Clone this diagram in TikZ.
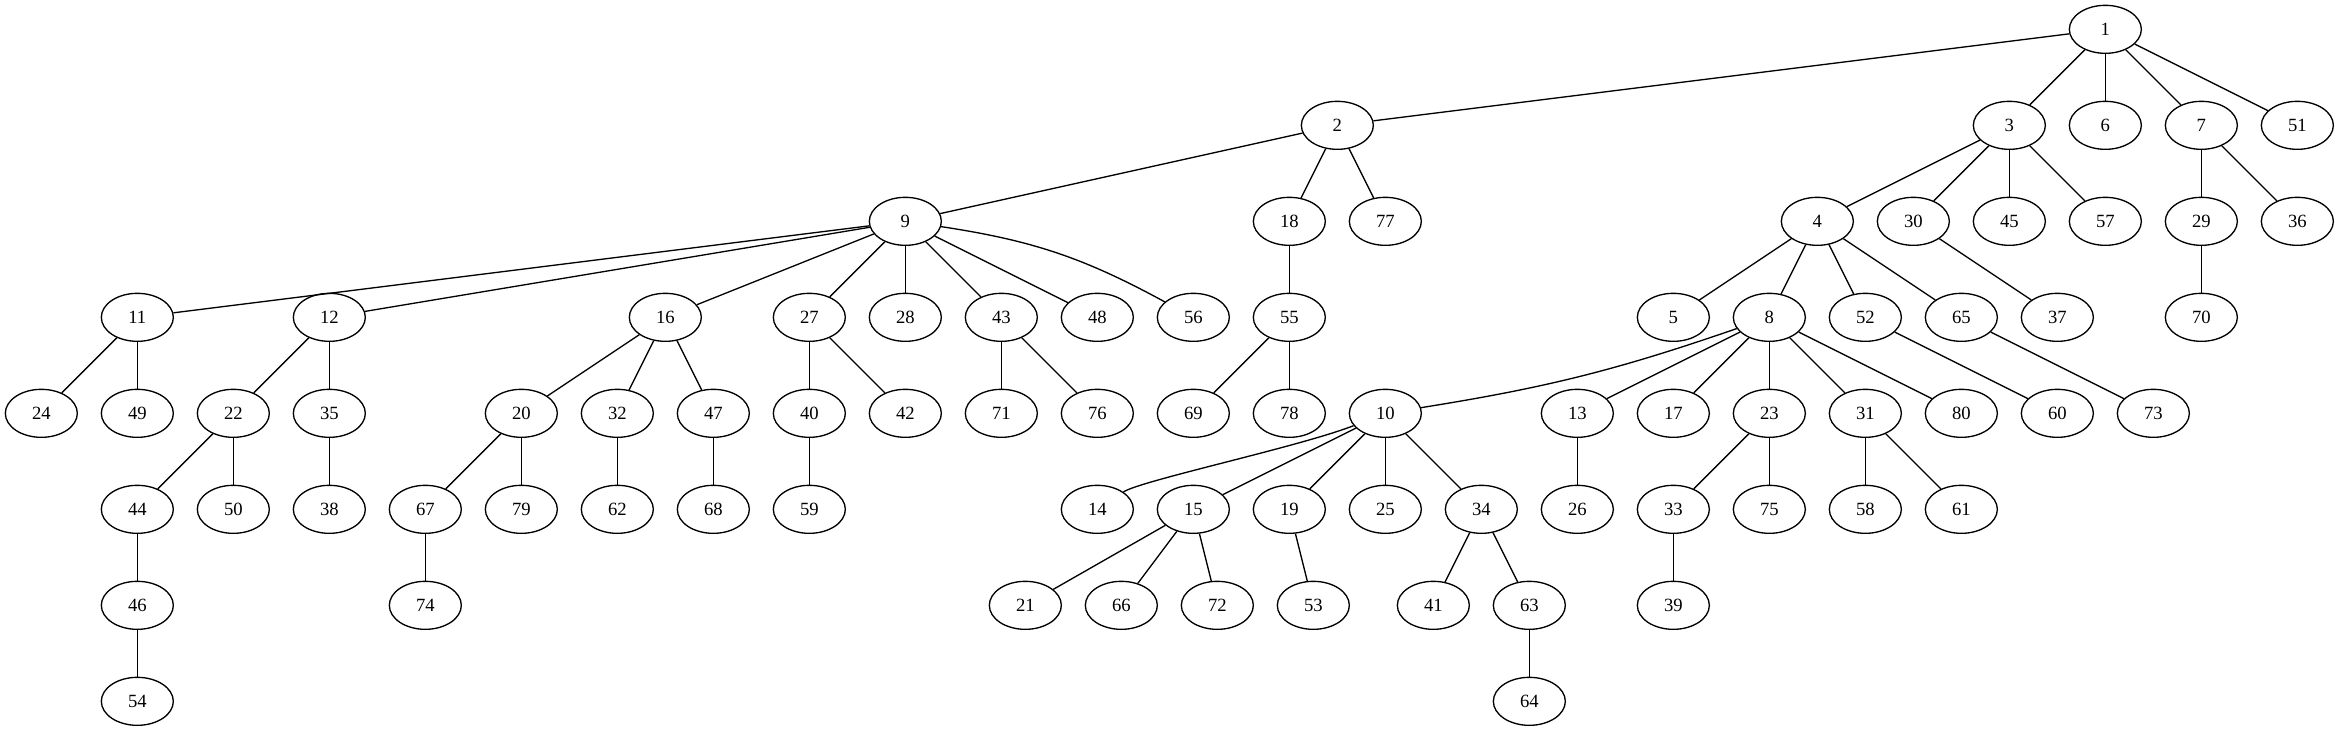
\documentclass[tikz,border=0pt]{standalone}
\usepackage{fontspec}
\setmainfont{Liberation Serif}
\usetikzlibrary{shapes.geometric}
\begin{document}
\begin{tikzpicture}[x=72pt,y=-72pt,
 nd/.style={ellipse,draw,line width=1pt,minimum width=54pt,minimum height=36pt,inner sep=0pt,font=\fontsize{14pt}{16pt}\selectfont},
 ed/.style={line width=1pt}]
\useasboundingbox (0pt,0pt) rectangle (1754.25pt,-548.25pt);
\begin{scope}[shift={(31pt,-22pt)}]
% row 0
\node[nd] (n1) at (21.5,0) {1};
% row 1
\node[nd] (n2) at (13.5,1) {2};
\node[nd] (n3) at (20.5,1) {3};
\node[nd] (n6) at (21.5,1) {6};
\node[nd] (n7) at (22.5,1) {7};
\node[nd] (n51) at (23.5,1) {51};
% row 2
\node[nd] (n9) at (9,2) {9};
\node[nd] (n18) at (13,2) {18};
\node[nd] (n77) at (14,2) {77};
\node[nd] (n4) at (18.5,2) {4};
\node[nd] (n30) at (19.5,2) {30};
\node[nd] (n45) at (20.5,2) {45};
\node[nd] (n57) at (21.5,2) {57};
\node[nd] (n29) at (22.5,2) {29};
\node[nd] (n36) at (23.5,2) {36};
% row 3
\node[nd] (n11) at (1,3) {11};
\node[nd] (n12) at (3,3) {12};
\node[nd] (n16) at (6.5,3) {16};
\node[nd] (n27) at (8,3) {27};
\node[nd] (n28) at (9,3) {28};
\node[nd] (n43) at (10,3) {43};
\node[nd] (n48) at (11,3) {48};
\node[nd] (n56) at (12,3) {56};
\node[nd] (n55) at (13,3) {55};
\node[nd] (n5) at (17,3) {5};
\node[nd] (n8) at (18,3) {8};
\node[nd] (n52) at (19,3) {52};
\node[nd] (n65) at (20,3) {65};
\node[nd] (n37) at (21,3) {37};
\node[nd] (n70) at (22.5,3) {70};
% row 4
\node[nd] (n24) at (0,4) {24};
\node[nd] (n49) at (1,4) {49};
\node[nd] (n22) at (2,4) {22};
\node[nd] (n35) at (3,4) {35};
\node[nd] (n20) at (5,4) {20};
\node[nd] (n32) at (6,4) {32};
\node[nd] (n47) at (7,4) {47};
\node[nd] (n40) at (8,4) {40};
\node[nd] (n42) at (9,4) {42};
\node[nd] (n71) at (10,4) {71};
\node[nd] (n76) at (11,4) {76};
\node[nd] (n69) at (12,4) {69};
\node[nd] (n78) at (13,4) {78};
\node[nd] (n10) at (14,4) {10};
\node[nd] (n13) at (16,4) {13};
\node[nd] (n17) at (17,4) {17};
\node[nd] (n23) at (18,4) {23};
\node[nd] (n31) at (19,4) {31};
\node[nd] (n80) at (20,4) {80};
\node[nd] (n60) at (21,4) {60};
\node[nd] (n73) at (22,4) {73};
% row 5
\node[nd] (n44) at (1,5) {44};
\node[nd] (n50) at (2,5) {50};
\node[nd] (n38) at (3,5) {38};
\node[nd] (n67) at (4,5) {67};
\node[nd] (n79) at (5,5) {79};
\node[nd] (n62) at (6,5) {62};
\node[nd] (n68) at (7,5) {68};
\node[nd] (n59) at (8,5) {59};
\node[nd] (n14) at (11,5) {14};
\node[nd] (n15) at (12,5) {15};
\node[nd] (n19) at (13,5) {19};
\node[nd] (n25) at (14,5) {25};
\node[nd] (n34) at (15,5) {34};
\node[nd] (n26) at (16,5) {26};
\node[nd] (n33) at (17,5) {33};
\node[nd] (n75) at (18,5) {75};
\node[nd] (n58) at (19,5) {58};
\node[nd] (n61) at (20,5) {61};
% row 6
\node[nd] (n46) at (1,6) {46};
\node[nd] (n74) at (4,6) {74};
\node[nd] (n21) at (10.25,6) {21};
\node[nd] (n66) at (11.25,6) {66};
\node[nd] (n72) at (12.25,6) {72};
\node[nd] (n53) at (13.25,6) {53};
\node[nd] (n41) at (14.5,6) {41};
\node[nd] (n63) at (15.5,6) {63};
\node[nd] (n39) at (17,6) {39};
% row 7
\node[nd] (n54) at (1,7) {54};
\node[nd] (n64) at (15.5,7) {64};
% edges
\foreach \a/\b in {1/2,1/3,1/6,1/7,1/51,
 2/9,2/18,2/77,
 3/4,3/30,3/45,3/57,
 7/29,7/36,
 9/11,9/12,9/16,9/27,9/28,9/43,9/48,
 18/55,
 4/5,4/8,4/52,4/65,
 30/37, 29/70,
 11/24,11/49, 12/22,12/35,
 16/20,16/32,16/47, 27/40,27/42, 43/71,43/76, 55/69,55/78,
 8/13,8/17,8/23,8/31,8/80, 52/60, 65/73,
 22/44,22/50, 35/38, 20/67,20/79, 32/62, 47/68, 40/59,
 10/15,10/19,10/25,10/34, 13/26, 23/33,23/75, 31/58,31/61,
 44/46, 67/74, 15/21,15/66,15/72, 19/53, 34/41,34/63, 33/39,
 46/54, 63/64}
 \draw[ed] (n\a) -- (n\b);
\draw[ed] (n9) to[bend left=10] (n56);
\draw[ed] (n8) to[bend left=5] (n10);
\draw[ed] (n10) .. controls +(-0.9,0.35) and +(0.45,-0.3) .. (n14);
\end{scope}
\end{tikzpicture}
\end{document}
